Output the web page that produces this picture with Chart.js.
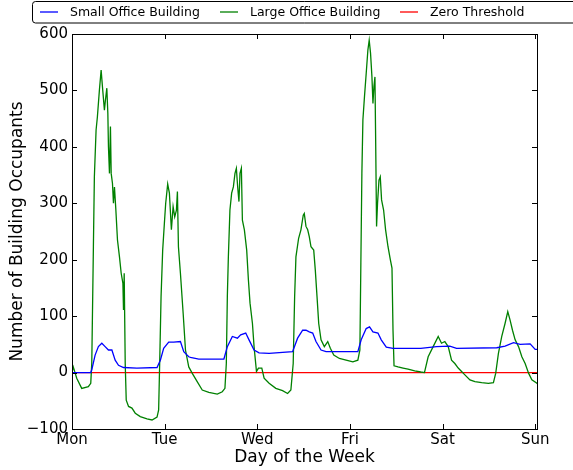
<!DOCTYPE html>
<html>
<head>
<meta charset="utf-8">
<script src="https://cdn.jsdelivr.net/npm/chart.js@4"></script>
<style>
  body { margin: 0; background: #fff; }
  #chart { display: block; }
</style>
</head>
<body>
<canvas id="chart" width="573" height="470"></canvas>
<script>
// x = sample index (minutes over the week), y = occupants
const dayLabels = ['Mon', 'Tue', 'Wed', 'Fri', 'Sat', 'Sun'];
const xTicks = [0, 2000, 4000, 6000, 8000, 10000];
const yTicks = [-100, 0, 100, 200, 300, 400, 500, 600];

const smallX = [0, 405, 427, 499, 570, 644, 715, 787, 861, 932, 1004, 1112, 1403, 1836, 1908, 1979, 2088, 2196, 2341, 2413, 2521, 2558, 2738, 3280, 3354, 3462, 3571, 3642, 3751, 3822, 3931, 4039, 4256, 4763, 4871, 4980, 5052, 5123, 5197, 5268, 5377, 5485, 6172, 6244, 6352, 6424, 6498, 6606, 6677, 6786, 6931, 7530, 7870, 8158, 8303, 9171, 9351, 9533, 9676, 9892, 10001, 10080];
const smallY = [0, 0, 5, 31, 46, 52, 46, 40, 40, 22, 13, 9, 8, 9, 22, 43, 54, 54, 55, 37, 28, 27, 24, 24, 46, 64, 61, 67, 70, 58, 40, 35, 34, 37, 61, 75, 75, 72, 70, 55, 40, 37, 37, 58, 78, 81, 72, 70, 58, 45, 43, 43, 46, 47, 43, 44, 47, 53, 50, 51, 41, 41];

const largeX = [0, 28, 102, 210, 353, 405, 427, 462, 483, 520, 548, 592, 629, 657, 700, 722, 752, 774, 787, 809, 830, 846, 874, 895, 917, 947, 982, 1025, 1062, 1099, 1112, 1127, 1149, 1171, 1221, 1294, 1366, 1474, 1620, 1728, 1836, 1871, 1893, 1923, 1958, 1995, 2023, 2066, 2103, 2146, 2183, 2218, 2255, 2276, 2298, 2341, 2400, 2450, 2521, 2594, 2703, 2812, 2955, 3137, 3245, 3302, 3332, 3354, 3376, 3410, 3447, 3484, 3519, 3549, 3577, 3605, 3627, 3657, 3679, 3722, 3772, 3809, 3844, 3896, 3931, 3983, 4026, 4098, 4148, 4256, 4401, 4546, 4655, 4726, 4776, 4807, 4835, 4893, 4943, 4993, 5015, 5052, 5089, 5123, 5160, 5219, 5253, 5290, 5327, 5377, 5448, 5522, 5578, 5652, 5773, 5919, 6064, 6172, 6216, 6237, 6259, 6281, 6315, 6352, 6389, 6417, 6446, 6476, 6498, 6519, 6541, 6554, 6576, 6597, 6628, 6656, 6684, 6728, 6771, 6823, 6873, 6909, 6931, 6953, 7040, 7148, 7256, 7400, 7530, 7610, 7690, 7798, 7907, 7978, 8050, 8123, 8195, 8266, 8339, 8412, 8483, 8592, 8700, 8845, 8991, 9099, 9149, 9207, 9279, 9350, 9409, 9459, 9511, 9568, 9641, 9713, 9784, 9858, 9929, 10038, 10080];
const largeY = [0, 10, -10, -28, -25, -19, 17, 223, 347, 430, 453, 501, 536, 507, 465, 483, 504, 459, 400, 353, 436, 353, 335, 300, 329, 288, 235, 205, 176, 158, 111, 176, 16, -49, -60, -63, -72, -78, -82, -84, -79, -66, 16, 135, 217, 265, 300, 334, 318, 253, 294, 276, 288, 321, 223, 176, 105, 40, 10, -1, -16, -31, -35, -38, -34, -28, 16, 135, 205, 288, 318, 329, 353, 362, 329, 303, 353, 362, 270, 253, 217, 164, 123, 87, 46, 2, 8, 8, -10, -19, -28, -32, -37, -31, 16, 135, 205, 238, 253, 279, 282, 259, 253, 241, 223, 217, 182, 135, 87, 58, 46, 55, 43, 31, 25, 22, 19, 22, 40, 194, 353, 448, 489, 530, 572, 589, 566, 524, 477, 507, 524, 430, 259, 300, 341, 347, 306, 288, 253, 223, 200, 185, 75, 12, 10, 8, 6, 3, 1, 0, 28, 46, 64, 52, 55, 46, 22, 16, 8, 2, -4, -13, -16, -18, -19, -18, -1, 34, 64, 87, 108, 93, 75, 58, 46, 28, 16, -1, -13, -19, -22];

const zeroX = [0, 10080];
const zeroY = [0, 0];

function toPoints(xs, ys) {
    return xs.map((x, i) => ({ x: x, y: ys[i] }));
}

const FONT = '"DejaVu Sans", "Liberation Sans", sans-serif';

// matplotlib-like frame, inward ticks and boxed legend
const mplStyle = {
    id: 'mplStyle',
    afterDraw(chart) {
        const ctx = chart.ctx;
        const a = chart.chartArea;
        const xs = chart.scales.x;
        const ys = chart.scales.y;
        ctx.save();
        ctx.strokeStyle = '#000';
        ctx.lineWidth = 1;
        ctx.beginPath();
        xs.ticks.forEach(t => {
            const px = Math.round(xs.getPixelForValue(t.value)) + 0.5;
            ctx.moveTo(px, a.bottom); ctx.lineTo(px, a.bottom - 5);
            ctx.moveTo(px, a.top); ctx.lineTo(px, a.top + 5);
        });
        ys.ticks.forEach(t => {
            const py = Math.round(ys.getPixelForValue(t.value)) + 0.5;
            ctx.moveTo(a.left, py); ctx.lineTo(a.left + 5, py);
            ctx.moveTo(a.right, py); ctx.lineTo(a.right - 5, py);
        });
        ctx.stroke();
        ctx.strokeRect(Math.round(a.left) + 0.5, Math.round(a.top) + 0.5,
            Math.round(a.width), Math.round(a.height));

        // legend
        ctx.fillStyle = '#fff';
        ctx.strokeStyle = '#000';
        ctx.beginPath();
        ctx.roundRect(32.5, 1.5, 560, 21.5, 3);
        ctx.fill();
        ctx.stroke();
        const items = [[40, 70], [220, 250], [400, 430]];
        ctx.font = '12.5px ' + FONT;
        ctx.textBaseline = 'middle';
        chart.data.datasets.forEach((ds, i) => {
            const [lx, tx] = items[i];
            ctx.strokeStyle = ds.borderColor;
            ctx.lineWidth = 1.3;
            ctx.beginPath();
            ctx.moveTo(lx, 12); ctx.lineTo(lx + 18, 12);
            ctx.stroke();
            ctx.fillStyle = '#000';
            ctx.fillText(ds.label, tx, 12.5);
        });
        ctx.restore();
    }
};

const ctx = document.getElementById('chart').getContext('2d');
new Chart(ctx, {
    type: 'scatter',
    data: {
        datasets: [
            { label: 'Small Office Building', data: toPoints(smallX, smallY), borderColor: '#0000ff' },
            { label: 'Large Office Building', data: toPoints(largeX, largeY), borderColor: '#008000' },
            { label: 'Zero Threshold', data: toPoints(zeroX, zeroY), borderColor: '#ff0000' }
        ]
    },
    options: {
        responsive: false,
        animation: false,
        showLine: true,
        elements: {
            point: { radius: 0, hoverRadius: 0 },
            line: { borderWidth: 1.3, tension: 0 }
        },
        layout: { padding: { top: 34, right: 36, left: 0, bottom: 0 } },
        plugins: { legend: { display: false }, tooltip: { enabled: false } },
        scales: {
            x: {
                type: 'linear',
                min: 0,
                max: 10040,
                grid: { display: false, drawTicks: false },
                border: { display: false },
                afterFit: s => { s.height = 41; },
                afterBuildTicks: s => { s.ticks = xTicks.map(v => ({ value: v })); },
                ticks: {
                    autoSkip: false,
                    padding: 2,
                    maxRotation: 0,
                    color: '#000',
                    font: { family: FONT, size: 15 },
                    callback: (v, i) => dayLabels[i]
                },
                title: {
                    display: true,
                    text: 'Day of the Week',
                    color: '#000',
                    font: { family: FONT, size: 17 },
                    padding: { top: 0, bottom: 2 }
                }
            },
            y: {
                min: -100,
                max: 600,
                grid: { display: false, drawTicks: false },
                border: { display: false },
                afterFit: s => { s.width = 72; },
                afterBuildTicks: s => { s.ticks = yTicks.map(v => ({ value: v })); },
                ticks: {
                    padding: 4,
                    color: '#000',
                    font: { family: FONT, size: 15 },
                    callback: v => (v < 0 ? '\u2212' + Math.abs(v) : String(v))
                },
                title: {
                    display: true,
                    text: 'Number of Building Occupants',
                    color: '#000',
                    font: { family: FONT, size: 17 },
                    padding: { top: 7, bottom: 0 }
                }
            }
        }
    },
    plugins: [mplStyle]
});
</script>
</body>
</html>
